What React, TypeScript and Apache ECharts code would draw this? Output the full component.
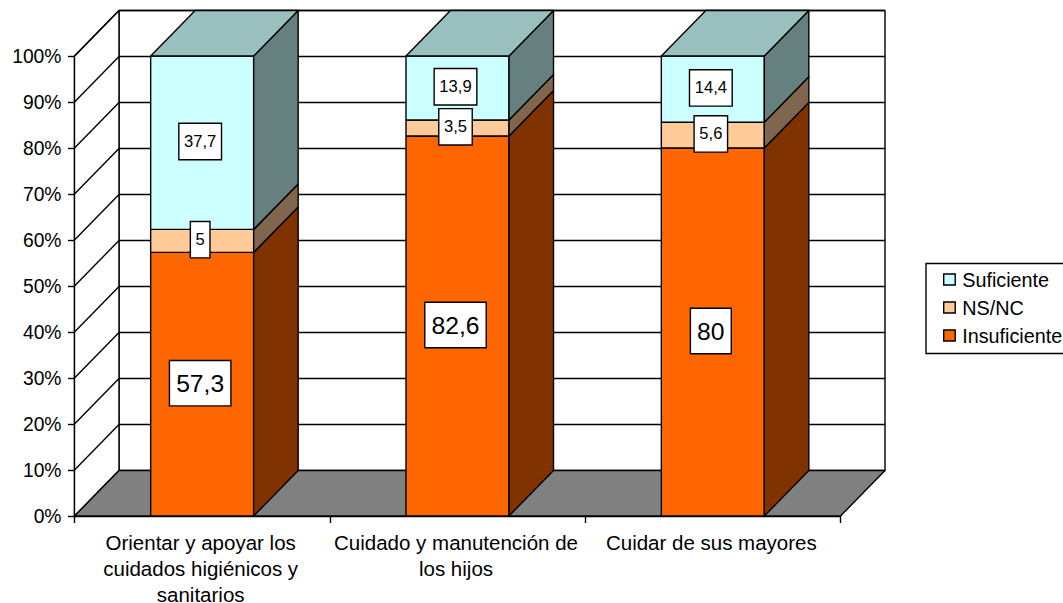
import React, { useEffect, useRef } from "react";
import * as echarts from "echarts";

const categories = [
  "Orientar y apoyar los\ncuidados higiénicos y\nsanitarios",
  "Cuidado y manutención de\nlos hijos",
  "Cuidar de sus mayores",
];
const insuficiente = [57.3, 82.6, 80];
const nsnc = [5, 3.5, 5.6];
const suficiente = [37.7, 13.9, 14.4];
const seriesNames = ["Insuficiente", "NS/NC", "Suficiente"];
const ticks = [0, 10, 20, 30, 40, 50, 60, 70, 80, 90, 100];

const FONT = "Arial, 'Liberation Sans', sans-serif";
const LINE = "#000";
const LW = 1.4;
const DX = 44.5;
const DY = -45.5;
const BAR_W = 103;
const colors = {
  Insuficiente: { front: "#FF6600", side: "#803300", top: "#BF4C00" },
  "NS/NC": { front: "#FFCC99", side: "#80664D", top: "#BF9973" },
  Suficiente: { front: "#CCFFFF", side: "#667F7F", top: "#99BFBF" },
};

function poly(points: number[][], fill: string) {
  return {
    type: "polygon",
    shape: { points },
    style: { fill, stroke: LINE, lineWidth: LW, lineJoin: "round" },
  };
}
function seg(x1: number, y1: number, x2: number, y2: number) {
  return {
    type: "line",
    shape: { x1, y1, x2, y2 },
    style: { stroke: LINE, lineWidth: LW, fill: "none" },
  };
}

function renderWalls(params: any, api: any) {
  const c = params.coordSys;
  const x0 = c.x;
  const x1 = c.x + c.width;
  const y0 = api.coord([0, 0])[1];
  const yTop = api.coord([0, 100])[1];
  const children: any[] = [
    poly([[x0 + DX, yTop + DY], [x1 + DX, yTop + DY], [x1 + DX, y0 + DY], [x0 + DX, y0 + DY]], "#FFFFFF"),
    poly([[x0, y0], [x0 + DX, y0 + DY], [x0 + DX, yTop + DY], [x0, yTop]], "#FFFFFF"),
    poly([[x0, y0], [x1, y0], [x1 + DX, y0 + DY], [x0 + DX, y0 + DY]], "#808080"),
  ];
  ticks.forEach((t) => {
    const y = api.coord([0, t])[1];
    if (t > 0) {
      children.push(seg(x0, y, x0 + DX, y + DY));
      children.push(seg(x0 + DX, y + DY, x1 + DX, y + DY));
    }
  });
  return { type: "group", children };
}

function renderBar(name: keyof typeof colors) {
  return (params: any, api: any) => {
    const i = api.value(0);
    const [cx, yb] = api.coord([i, api.value(1)]);
    const [, yt] = api.coord([i, api.value(2)]);
    const l = cx - BAR_W / 2;
    const r = cx + BAR_W / 2;
    const col = colors[name];
    const children: any[] = [
      poly([[l, yb], [r, yb], [r, yt], [l, yt]], col.front),
      poly([[r, yb], [r + DX, yb + DY], [r + DX, yt + DY], [r, yt]], col.side),
    ];
    if (api.value(2) >= 99.9) {
      children.push(poly([[l, yt], [r, yt], [r + DX, yt + DY], [l + DX, yt + DY]], col.top));
    }
    return { type: "group", children };
  };
}

function stackRows() {
  const rows: Record<string, number[][]> = { Insuficiente: [], "NS/NC": [], Suficiente: [] };
  categories.forEach((_, i) => {
    const a = insuficiente[i];
    const b = nsnc[i];
    const c = suficiente[i];
    rows.Insuficiente.push([i, 0, a]);
    rows["NS/NC"].push([i, a, a + b]);
    rows.Suficiente.push([i, a + b, a + b + c]);
  });
  return rows;
}

function renderLabel(params: any, api: any) {
  const i = api.value(0);
  const v = api.value(2);
  const big = api.value(3) === 1;
  const [cx, cy] = api.coord([i, api.value(1)]);
  const text = String(v).replace(".", ",");
  return {
    type: "text",
    x: cx - 2,
    y: cy - (big ? 1 : 1.2),
    style: {
      text,
      fill: "#000",
      font: `${big ? 24.7 : 16.6}px ${FONT}`,
      align: "center",
      verticalAlign: "middle",
      backgroundColor: "#fff",
      borderColor: LINE,
      borderWidth: LW,
      padding: big ? [10, 6, 9, 6] : [9, 4.5, 9, 4.5],
    },
  };
}

export default function App() {
  const ref = useRef<HTMLDivElement>(null);
  useEffect(() => {
    const chart = echarts.init(ref.current!, null, { renderer: "svg" });
    const rows = stackRows();
    const labelData: number[][] = [];
    categories.forEach((_, i) => {
      const a = insuficiente[i];
      const b = nsnc[i];
      const c = suficiente[i];
      labelData.push([i, a / 2, a, 1]);
      labelData.push([i, a + b / 2, b, 0]);
      labelData.push([i, a + b + c / 2, c, 0]);
    });
    chart.setOption({
      animation: false,
      backgroundColor: "#fff",
      textStyle: { fontFamily: FONT },
      grid: { left: 74.5, top: 56, width: 766, height: 460, containLabel: false, outerBoundsMode: "none" },
      legend: {
        orient: "vertical",
        left: 926,
        top: 263.5,
        padding: [6, 30, 8, 17],
        itemWidth: 11.5,
        itemHeight: 11,
        itemGap: 8,
        borderColor: "#000",
        borderWidth: 1.4,
        selectedMode: false,
        textStyle: { color: "#000", fontSize: 19.8, fontFamily: FONT, padding: [0, 0, 0, 2], lineHeight: 20 },
        data: ["Suficiente", "NS/NC", "Insuficiente"].map((name) => ({
          name,
          icon: "rect",
          itemStyle: { color: colors[name as keyof typeof colors].front, borderColor: "#000", borderWidth: 1.4 },
        })),
      },
      xAxis: {
        type: "category",
        data: categories,
        axisLine: { show: true, lineStyle: { color: LINE, width: LW }, onZero: false },
        axisTick: { show: true, alignWithLabel: false, length: 7, lineStyle: { color: LINE, width: LW } },
        axisLabel: {
          color: "#000",
          fontSize: 20.5,
          fontFamily: FONT,
          lineHeight: 26,
          margin: 13,
          interval: 0,
          align: "center",
          padding: [0, 3, 0, 0],
        },
        splitLine: { show: false },
      },
      yAxis: {
        type: "value",
        min: 0,
        max: 100,
        interval: 10,
        axisLine: { show: true, lineStyle: { color: LINE, width: LW } },
        axisTick: { show: true, length: 6.5, lineStyle: { color: LINE, width: LW } },
        axisLabel: { color: "#000", fontSize: 19.3, fontFamily: FONT, margin: 13, formatter: "{value}%" },
        splitLine: { show: false },
      },
      series: [
        {
          type: "custom",
          name: "walls",
          silent: true,
          clip: false,
          z: 1,
          renderItem: renderWalls,
          data: [[0, 0]],
          encode: { x: 0, y: 1 },
        },
        ...seriesNames.map((name, k) => ({
          type: "custom",
          name,
          silent: true,
          clip: false,
          z: 2 + k,
          itemStyle: { color: colors[name as keyof typeof colors].front },
          renderItem: renderBar(name as keyof typeof colors),
          data: rows[name],
          encode: { x: 0, y: [1, 2] },
        })),
        {
          type: "custom",
          name: "labels",
          silent: true,
          clip: false,
          z: 10,
          renderItem: renderLabel,
          data: labelData,
          encode: { x: 0, y: 1 },
        },
      ],
    });
    return () => chart.dispose();
  }, []);
  return (
    <div
      ref={ref}
      style={{ position: "fixed", left: 0, top: 0, width: 1063, height: 603, background: "#fff" }}
    />
  );
}
